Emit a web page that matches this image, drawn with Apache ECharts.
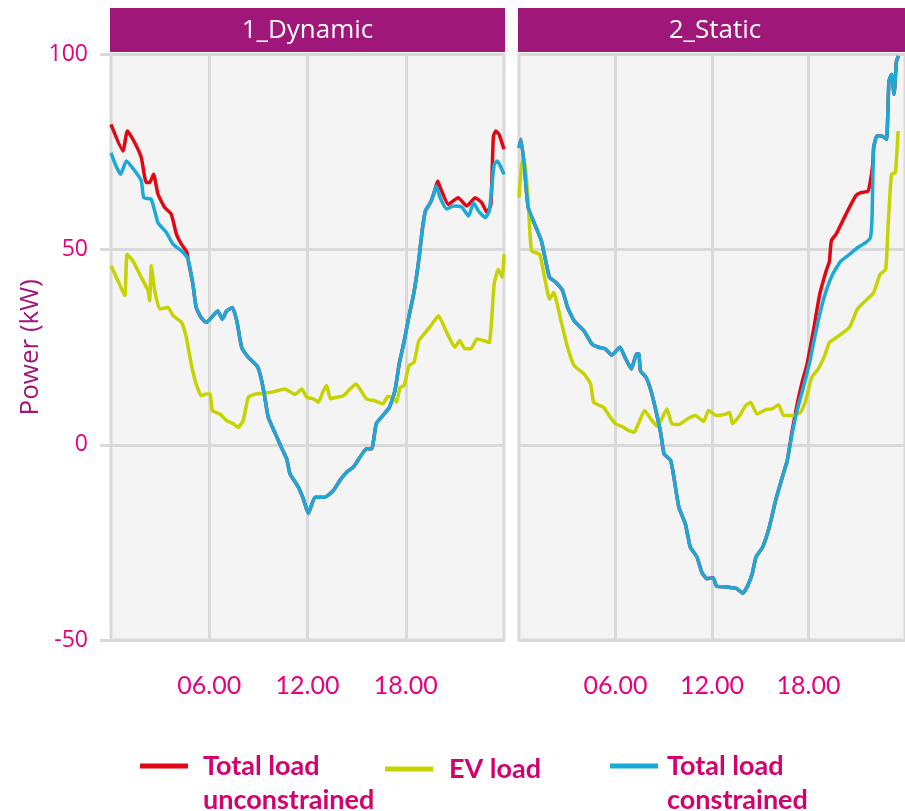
<!DOCTYPE html>
<html lang="en">

<head>
    <meta charset="UTF-8">
    <title>EV load</title>
    <script src="https://cdn.jsdelivr.net/npm/echarts@6/dist/echarts.min.js"></script>
    <style>
        body,
        html {
            padding: 0;
            margin: 0;
            background: #fff;
        }
    </style>
</head>

<body>
    <div id="chart" style="width:905px;height:811px;"></div>
    <script>
        // hours of the day (x) and power in kW (y)
        var panels = ['1_Dynamic', '2_Static'];
        var seriesNames = ['Total load\nunconstrained', 'EV load', 'Total load\nconstrained'];
        var xTicks = [6, 12, 18];

        var dynUnconstrained = [[0, 82.1], [0.73, 75.3], [1.0, 80.4], [1.45, 77.4], [1.85, 73.6], [2.15, 67.2], [2.36, 67.2], [2.6, 69.3], [2.87, 64.2], [3.28, 60.8], [3.68, 59.1], [3.99, 54.0], [4.3, 51.4], [4.64, 49.3],
            [4.7, 47.6], [5.0, 41.2], [5.2, 35.2], [5.5, 32.6], [5.8, 31.4], [6.05, 32.2], [6.52, 34.3], [6.8, 32.2], [7.06, 34.3], [7.41, 35.2], [7.68, 31.8], [7.98, 25.0], [8.39, 22.4], [8.9, 20.3], [9.1, 18.2], [9.36, 13.0], [9.6, 7.1], [10.0, 3.2], [10.4, -0.6], [10.73, -3.6], [10.93, -7.4], [11.44, -10.8], [11.74, -13.8], [12.05, -17.6], [12.46, -13.4], [13.07, -13.4], [13.58, -11.7], [13.98, -9.1], [14.39, -7.0], [14.8, -5.7], [15.2, -3.2], [15.6, -1.0], [15.92, -1.0], [16.2, 5.4], [16.6, 7.5], [17.0, 9.6], [17.34, 13.9], [17.6, 20.7], [17.9, 26.5], [18.2, 33.0], [18.5, 39.0], [18.8, 47.5], [19.0, 54.8], [19.2, 59.9], [19.5, 62.0], [19.7, 64.2],
            [19.95, 67.6], [20.1, 66.0], [20.6, 61.6], [21.2, 63.3], [21.73, 61.2], [22.24, 63.3], [22.65, 62.0], [22.96, 59.5], [23.2, 61.6], [23.35, 79.0], [23.5, 80.4], [23.7, 79.5], [24, 75.7]];

        var dynEV = [[0, 45.9], [0.43, 42.0], [0.84, 38.2], [0.98, 48.8], [1.34, 47.1], [1.85, 42.9], [2.26, 39.5], [2.36, 36.9], [2.46, 45.9], [2.67, 39.5], [2.98, 34.8], [3.48, 35.2], [3.79, 33.1], [4.3, 31.4], [4.6, 27.5], [4.9, 20.7], [5.2, 15.6], [5.51, 12.6], [5.8, 13.0], [6.05, 13.0], [6.19, 8.8], [6.66, 7.9], [7.06, 6.2], [7.47, 5.4], [7.77, 4.5], [8.07, 6.2], [8.39, 12.2], [8.8, 13.0], [9.3, 13.2], [9.81, 13.5], [10.6, 14.3], [11.24, 12.9], [11.65, 14.3], [11.95, 12.2], [12.36, 11.8], [12.66, 10.9], [12.97, 13.9], [13.17, 15.2], [13.4, 11.8], [13.8, 12.2], [14.2, 12.6], [14.6, 14.3], [14.96, 15.6], [15.2, 14.3], [15.6, 11.8], [16.1, 11.3], [16.6, 10.5], [16.9, 12.4], [17.24, 12.2], [17.44, 10.9], [17.65, 14.7], [17.9, 15.2], [18.2, 20.3], [18.5, 21.1], [18.8, 26.7], [19.2, 28.8], [19.6, 30.9], [20.0, 33.1], [20.5, 28.8], [21.0, 25.0], [21.3, 26.7], [21.6, 24.6], [22.0, 24.7], [22.35, 27.1], [22.75, 26.7], [23.1, 26.2], [23.4, 41.2], [23.65, 45.0], [23.9, 42.9], [24, 48.8]];

        var dynConstrained = [[0, 74.8], [0.3, 71.5], [0.59, 69.3], [0.94, 72.7], [1.45, 70.2], [1.85, 67.6], [2.0, 63.3], [2.46, 62.9], [2.87, 56.9], [3.38, 54.4], [3.79, 51.4], [4.3, 49.7], [4.7, 47.6], [5.0, 41.2], [5.2, 35.2], [5.5, 32.6], [5.8, 31.4], [6.05, 32.2], [6.52, 34.3], [6.8, 32.2], [7.06, 34.3], [7.41, 35.2], [7.68, 31.8], [7.98, 25.0], [8.39, 22.4], [8.9, 20.3], [9.1, 18.2], [9.36, 13.0], [9.6, 7.1], [10.0, 3.2], [10.4, -0.6], [10.73, -3.6], [10.93, -7.4], [11.44, -10.8], [11.74, -13.8], [12.05, -17.6], [12.46, -13.4], [13.07, -13.4], [13.58, -11.7], [13.98, -9.1], [14.39, -7.0], [14.8, -5.7], [15.2, -3.2], [15.6, -1.0], [15.92, -1.0], [16.2, 5.4], [16.6, 7.5], [17.0, 9.6], [17.34, 13.9], [17.6, 20.7], [17.9, 26.5], [18.2, 33.0], [18.5, 39.0], [18.8, 47.5], [19.0, 54.8], [19.2, 59.9], [19.5, 62.0], [19.7, 64.2], [19.86, 66.3], [20.1, 63.3], [20.5, 60.4], [20.9, 61.2], [21.42, 60.9], [21.83, 58.6], [22.14, 62.0], [22.44, 59.9], [22.85, 58.2], [23.1, 59.9], [23.4, 71.9], [23.6, 72.7], [24, 69.3]];

        var statUnconstrained = [[0, 76.1], [0.12, 78.3], [0.32, 71.9], [0.57, 60.8], [0.98, 56.5], [1.39, 52.3], [1.7, 46.3], [1.9, 42.9], [2.3, 41.6], [2.71, 39.5], [3.02, 35.2], [3.43, 31.8], [4.04, 29.2], [4.54, 25.8], [4.95, 25.0], [5.36, 24.6], [5.77, 23.0], [6.28, 25.0], [6.59, 22.4], [6.99, 19.4], [7.3, 23.3], [7.45, 23.3], [7.55, 19.0], [7.9, 17.3], [8.2, 13.9], [8.51, 8.8], [8.82, 2.8], [9.02, -2.3], [9.43, -4.0], [9.63, -8.3], [9.94, -16.0], [10.34, -20.2], [10.65, -26.2], [11.06, -28.7], [11.36, -32.6], [11.67, -34.3], [12.08, -34.1], [12.28, -36.2], [12.9, -36.4], [13.5, -36.8], [13.93, -38.0], [14.23, -36.0], [14.5, -33.0], [14.74, -28.7], [15.15, -26.2], [15.56, -21.1], [15.96, -14.2], [16.37, -8.3], [16.68, -4.0],
            [16.98, 3.5], [17.3, 10.5], [17.6, 16.0], [17.9, 20.5], [18.3, 29.2], [18.7, 38.6], [19.1, 44.6], [19.3, 47.0], [19.42, 52.3], [19.72, 54.0], [20.33, 59.1], [20.94, 63.8], [21.25, 64.6], [21.7, 65.0], [21.85, 67.6], [22.0, 72.0],
            [22.05, 76.1], [22.25, 79.1], [22.55, 79.1], [22.85, 78.3], [23.0, 93.2], [23.16, 94.9], [23.32, 89.8], [23.47, 98.3], [23.6, 99.6]];

        var statEV = [[0, 63.3], [0.2, 73.6], [0.37, 71.9], [0.57, 62.5], [0.78, 49.7], [1.28, 48.8], [1.59, 42.9], [1.9, 37.3], [2.16, 39.0], [2.61, 31.8], [3.02, 25.0], [3.43, 20.3], [4.04, 18.2], [4.45, 15.6], [4.65, 10.9], [5.26, 9.6], [5.67, 7.1], [6.0, 5.4], [6.4, 4.7], [6.8, 3.7], [7.16, 3.2], [7.5, 6.2], [7.81, 8.8], [8.2, 6.6], [8.6, 4.7], [9.02, 7.9], [9.2, 9.2], [9.5, 5.4], [9.94, 5.2], [10.45, 6.6], [10.96, 7.5], [11.48, 6.0], [11.78, 8.8], [12.28, 7.5], [12.8, 7.8], [13.1, 8.3], [13.27, 5.4], [13.72, 7.5], [14.1, 10.1], [14.4, 10.9], [14.8, 7.9], [15.35, 9.0], [15.73, 9.2], [16.14, 10.3], [16.45, 7.5], [16.98, 7.5], [17.5, 8.3], [17.8, 11.0], [18.2, 17.3], [18.6, 19.4], [19.0, 22.8], [19.3, 26.2], [19.9, 28.0], [20.55, 30.1], [21.04, 34.8], [21.55, 36.9], [22.05, 39.0], [22.45, 43.7], [22.8, 45.0], [22.95, 56.1], [23.16, 69.3], [23.4, 69.7], [23.57, 80.4]];

        var statConstrained = [[0, 76.1], [0.12, 78.3], [0.32, 71.9], [0.57, 60.8], [0.98, 56.5], [1.39, 52.3], [1.7, 46.3], [1.9, 42.9], [2.3, 41.6], [2.71, 39.5], [3.02, 35.2], [3.43, 31.8], [4.04, 29.2], [4.54, 25.8], [4.95, 25.0], [5.36, 24.6], [5.77, 23.0], [6.28, 25.0], [6.59, 22.4], [6.99, 19.4], [7.3, 23.3], [7.45, 23.3], [7.55, 19.0], [7.9, 17.3], [8.2, 13.9], [8.51, 8.8], [8.82, 2.8], [9.02, -2.3], [9.43, -4.0], [9.63, -8.3], [9.94, -16.0], [10.34, -20.2], [10.65, -26.2], [11.06, -28.7], [11.36, -32.6], [11.67, -34.3], [12.08, -34.1], [12.28, -36.2], [12.9, -36.4], [13.5, -36.8], [13.93, -38.0], [14.23, -36.0], [14.5, -33.0], [14.74, -28.7], [15.15, -26.2], [15.56, -21.1], [15.96, -14.2], [16.37, -8.3], [16.68, -4.0], [16.98, 2.8], [17.3, 9.0], [17.7, 15.0], [18.1, 21.6], [18.3, 25.8], [18.7, 33.5], [19.1, 39.5], [19.5, 43.7], [20.02, 47.1], [20.55, 48.8], [21.04, 50.5], [21.55, 51.8], [21.85, 53.1], [21.95, 58.2], [22.05, 76.1], [22.25, 79.1], [22.55, 79.1], [22.85, 78.3], [23.0, 93.2], [23.16, 94.9], [23.32, 89.8], [23.47, 98.3], [23.6, 99.6]];

        var colors = ['#e30613', '#c6d300', '#1ba9d9'];
        var gridColor = '#d9d9d9';
        var pink = '#e6007e';
        var purple = '#a0177a';

        // plot boxes (pixels)
        var boxes = [
            { left: 111, top: 54.5, width: 393, height: 585.5 },
            { left: 519, top: 54.5, width: 392, height: 585.5 }
        ];

        var chart = echarts.init(document.getElementById('chart'));

        var grids = [], xAxes = [], yAxes = [], graphics = [], series = [];
        var panelData = [
            [dynUnconstrained, dynEV, dynConstrained],
            [statUnconstrained, statEV, statConstrained]
        ];

        boxes.forEach(function (b, i) {
            grids.push({
                left: b.left, top: b.top, width: b.width, height: b.height,
                show: true, backgroundColor: '#f4f4f4',
                borderColor: gridColor, borderWidth: 3
            });
            xAxes.push({
                type: 'value', gridIndex: i, min: 0, max: 24, interval: 6,
                axisLine: { show: false },
                axisTick: { show: true, customValues: xTicks, length: 11, lineStyle: { color: gridColor, width: 3 } },
                axisLabel: {
                    customValues: xTicks, margin: 33, color: pink, fontSize: 25, fontFamily: 'Lato',
                    formatter: function (v) { return (v < 10 ? '0' : '') + v + '.00'; }
                },
                splitLine: { show: true, lineStyle: { color: gridColor, width: 3 } }
            });
            yAxes.push({
                type: 'value', gridIndex: i, min: -50, max: 100, interval: 50,
                name: i === 0 ? 'Power (kW)' : '',
                nameLocation: 'middle', nameGap: 67,
                nameTextStyle: { color: purple, fontSize: 26, fontFamily: 'Open Sans' },
                axisLine: { show: false },
                axisTick: { show: i === 0, length: 11, lineStyle: { color: gridColor, width: 3 } },
                axisLabel: { show: i === 0, margin: 23, color: pink, fontSize: 23, fontFamily: 'Open Sans' },
                splitLine: { show: true, lineStyle: { color: gridColor, width: 3 } }
            });
            // facet strip
            graphics.push({
                type: 'rect', shape: { x: b.left - 1, y: 8, width: b.width + 2, height: 44 },
                style: { fill: purple }, silent: true
            });
            graphics.push({
                type: 'text', x: b.left + b.width / 2, y: 31,
                style: { text: panels[i], fill: '#fff', fontSize: 26, fontFamily: 'Open Sans', align: 'center', verticalAlign: 'middle' },
                silent: true
            });
            panelData[i].forEach(function (d, k) {
                series.push({
                    name: seriesNames[k], type: 'line', xAxisIndex: i, yAxisIndex: i,
                    data: d, showSymbol: false, symbol: 'none', smooth: 0.15,
                    lineStyle: { color: colors[k], width: 3.5, join: 'round' },
                    itemStyle: { color: colors[k] },
                    z: 2 + k
                });
            });
        });

        var legendText = { color: '#d4006f', fontSize: 27, fontWeight: 'bold', fontFamily: 'Lato', lineHeight: 34 };
        // two-line names get a blank first line so the swatch sits beside the first line of text
        function legendAt(k, left, top, padLeft) {
            return {
                data: [seriesNames[k]], left: left, top: top, padding: 0,
                icon: 'rect', itemWidth: 48, itemHeight: 5,
                formatter: function (name) { return name.indexOf('\n') >= 0 ? ' \n' + name : name; },
                textStyle: Object.assign({}, legendText, { padding: [0, 0, 0, padLeft] })
            };
        }

        chart.setOption({
            animation: false,
            grid: grids,
            xAxis: xAxes,
            yAxis: yAxes,
            legend: [
                legendAt(0, 140, 715, 10),
                legendAt(1, 385, 752, 11),
                legendAt(2, 610, 715, 4)
            ],
            graphic: graphics,
            series: series
        });
    </script>
</body>

</html>
